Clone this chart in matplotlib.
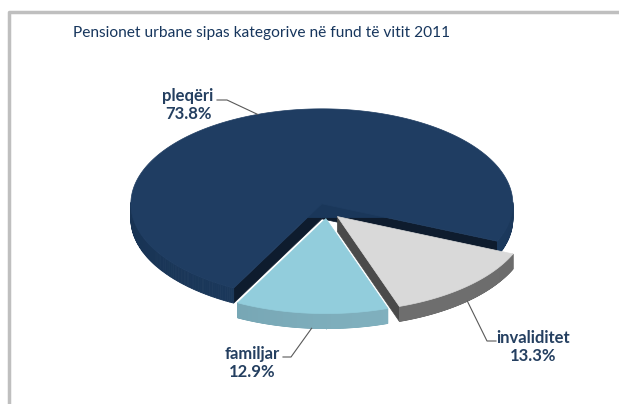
import numpy as np
import matplotlib
matplotlib.use("Agg")
import matplotlib.pyplot as plt
from matplotlib.patches import Polygon

plt.rcParams['font.family'] = ['Lato', 'DejaVu Sans']

# data
categories = ['pleqëri', 'invaliditet', 'familjar']
shares = [73.8, 13.3, 12.9]
title = 'Pensionet urbane sipas kategorive në fund të vitit 2011'

# style
top_colors = ['#1f3d62', '#d9d9d9', '#92cddc']
side_colors = ['#16304f', '#555555', '#5a8795']
side_light = ['#1c3a5e', '#6e6e6e', '#80b0be']
edge_wall = ['#0e1c2e', '#4a4a4a', '#4f7884']
text_color = '#243f60'

cx, cy = 327, 211      # pie centre in pixels
ra, rb = 191, 95       # ellipse radii
depth = 15
explode = 0.08
start = 242.5          # degrees, slices go clockwise

W, H = 619, 404
fig = plt.figure(figsize=(W / 100, H / 100), dpi=100)
ax = fig.add_axes([0, 0, 1, 1])
ax.set_xlim(0, W)
ax.set_ylim(H, 0)
ax.axis('off')

# frame (left + top only)
ax.plot([9, 9, W], [H, 11.5, 11.5], color='#bfbfbf', lw=2.5, solid_capstyle='butt')

fracs = np.array(shares) / sum(shares)
ends = start - np.cumsum(fracs) * 360
begins = np.concatenate([[start], ends[:-1]])


def pt(ang, r, off, dz=0):
    a = np.radians(ang)
    return (cx + off[0] + ra * r * np.cos(a), cy + off[1] - rb * r * np.sin(a) + dz)


def mix(c1, c2, t):
    c1 = np.array(matplotlib.colors.to_rgb(c1))
    c2 = np.array(matplotlib.colors.to_rgb(c2))
    return tuple(c1 * (1 - t) + c2 * t)


slices = []
for i in range(len(shares)):
    t1, t2 = ends[i], begins[i]      # ccw from t1 to t2
    mid = (t1 + t2) / 2
    m = np.radians(mid)
    off = (ra * explode * np.cos(m), -rb * explode * np.sin(m))
    slices.append((t1, t2, mid, off))

for i, (t1, t2, mid, off) in enumerate(slices):
    apex = pt(0, 0, off)
    # radial walls facing the viewer
    for ang, normal in ((t1, t1 - 90), (t2, t2 + 90)):
        if np.sin(np.radians(normal)) < 0:
            p = pt(ang, 1, off)
            quad = [apex, p, (p[0], p[1] + depth), (apex[0], apex[1] + depth)]
            ax.add_patch(Polygon(quad, closed=True, fc=edge_wall[i], ec=edge_wall[i], lw=0.5))
    # outer wall, front half only
    angs = np.linspace(t1, t2, 400)
    angs = angs[np.sin(np.radians(angs)) <= 0.02]
    for a0, a1 in zip(angs[:-1], angs[1:]):
        p0, p1 = pt(a0, 1, off), pt(a1, 1, off)
        shade = 0.5 + 0.5 * np.cos(np.radians(a0 + 60))
        col = mix(side_colors[i], side_light[i], shade)
        quad = [p0, p1, (p1[0], p1[1] + depth), (p0[0], p0[1] + depth)]
        ax.add_patch(Polygon(quad, closed=True, fc=col, ec=col, lw=0.6))
    # top face
    angs = np.linspace(t1, t2, 300)
    poly = [apex] + [pt(a, 1, off) for a in angs]
    ax.add_patch(Polygon(poly, closed=True, fc=top_colors[i], ec=top_colors[i], lw=0.5))

# labels with leader lines: label centre, leader elbow start and knee
label_pos = [(188, 105), (533, 347), (252, 363)]
leader_start = [(217, 100), (496, 341), (283, 357)]
leader_knee = [(227, 100), (487, 341), (291, 357)]
for i, (t1, t2, mid, off) in enumerate(slices):
    lx, ly = label_pos[i]
    dz = depth if np.sin(np.radians(mid)) < 0 else 0
    ex, ey = pt(mid, 1, off, dz)
    txt = f'{categories[i]}\n{shares[i]:.1f}%'
    ax.text(lx, ly, txt, ha='center', va='center', color=text_color,
            fontsize=12, fontweight='bold', linespacing=1.2)
    (sx, sy), (kx, ky) = leader_start[i], leader_knee[i]
    ax.plot([sx, kx, ex], [sy, ky, ey], color='#595959', lw=0.8)

ax.text(262, 33, title, ha='center', va='center', color='#17365d', fontsize=11.2)

fig.savefig('out.png', dpi=100)
